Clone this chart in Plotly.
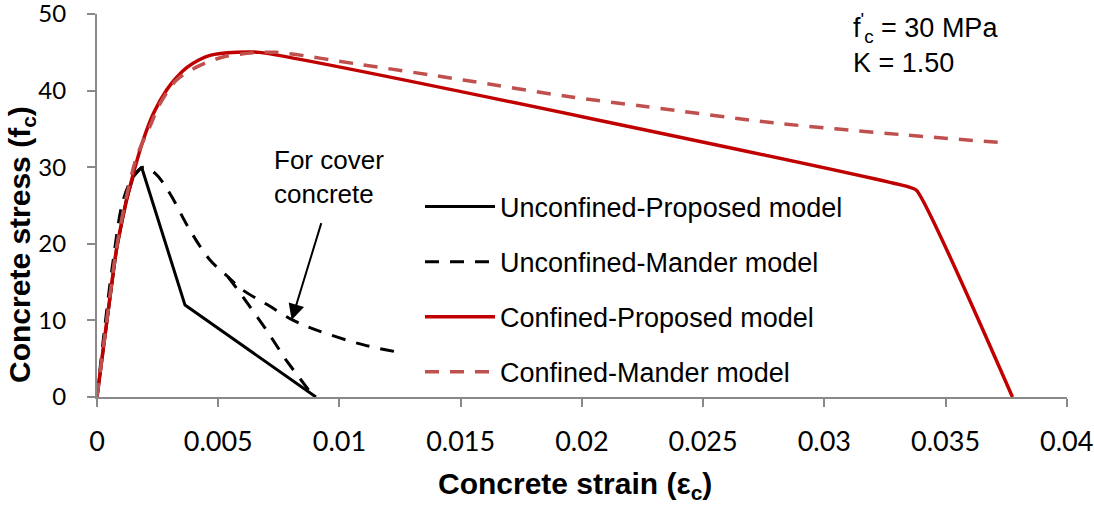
import plotly.graph_objects as go

# ---------------- data ----------------
# Unconfined - Proposed model
unc_prop_strain = [0, 0.0004, 0.0008, 0.0012, 0.0015, 0.00184, 0.00363, 0.00903]
unc_prop_stress = [0, 9.8, 19.2, 25.6, 28.8, 30.0, 12.0, 0.0]

# Unconfined - Mander model (main descending curve)
unc_mand_strain = [0, 0.0003, 0.00067, 0.00108, 0.0015, 0.0019, 0.0024, 0.003, 0.00383,
                   0.00466, 0.0054, 0.006, 0.007, 0.0081, 0.009, 0.011, 0.0127]
unc_mand_stress = [0, 8.6, 17.9, 25.7, 28.8, 30.0, 29.2, 26.6, 21.8,
                   17.9, 15.7, 14.0, 12.1, 10.0, 8.8, 6.8, 5.7]
# Unconfined - Mander model (spalling branch)
unc_mand_branch_strain = [0.0054, 0.0059, 0.007, 0.0078, 0.0089]
unc_mand_branch_stress = [15.7, 13.6, 8.7, 4.8, 0.2]

# Confined - Proposed model
conf_prop_strain = [0, 0.0004, 0.0008, 0.0012, 0.0015, 0.0019, 0.00232, 0.00287, 0.0033,
                    0.0037, 0.0042, 0.00466, 0.00576, 0.0067, 0.0335, 0.0338, 0.03776]
conf_prop_stress = [0, 9.8, 19.2, 25.4, 29.2, 33.5, 37.0, 40.1, 41.8,
                    43.0, 44.0, 44.6, 45.0, 45.0, 27.4, 27.0, 0.0]

# Confined - Mander model
conf_mand_strain = [0, 0.0004, 0.0008, 0.0012, 0.00164, 0.00218, 0.0026, 0.00328, 0.00425,
                    0.0052, 0.0063, 0.0074, 0.0107, 0.0151, 0.0195, 0.0227, 0.0279,
                    0.0334, 0.03736]
conf_mand_stress = [0, 9.9, 19.4, 26.0, 31.4, 35.3, 38.3, 41.4, 43.3,
                    44.4, 44.9, 45.0, 43.5, 41.4, 39.2, 37.9, 35.8,
                    34.2, 33.2]

x_ticks = [0, 0.005, 0.01, 0.015, 0.02, 0.025, 0.03, 0.035, 0.04]
x_tick_labels = ["0", "0.005", "0.01", "0.015", "0.02", "0.025", "0.03", "0.035", "0.04"]
y_ticks = [0, 10, 20, 30, 40, 50]

# ---------------- styles ----------------
RED = "#C00000"
RED_LIGHT = "#C0504D"
BLACK = "#000000"
AXIS = "#898989"
TEXT_FONT = "Liberation Sans, Arial, sans-serif"
TICK_FONT = "Lato, Carlito, sans-serif"

fig = go.Figure()

fig.add_trace(go.Scatter(
    x=unc_prop_strain, y=unc_prop_stress, mode="lines",
    name="Unconfined-Proposed model", legendgroup="g1",
    line=dict(color=BLACK, width=3)))
fig.add_trace(go.Scatter(
    x=unc_mand_strain, y=unc_mand_stress, mode="lines",
    name="Unconfined-Mander model", legendgroup="g2",
    line=dict(color=BLACK, width=3, dash="14px,11px", shape="spline", smoothing=1.0)))
fig.add_trace(go.Scatter(
    x=unc_mand_branch_strain, y=unc_mand_branch_stress, mode="lines",
    name="Unconfined-Mander model", legendgroup="g2", showlegend=False,
    line=dict(color=BLACK, width=3, dash="14px,11px")))
fig.add_trace(go.Scatter(
    x=conf_prop_strain, y=conf_prop_stress, mode="lines",
    name="Confined-Proposed model", legendgroup="g3",
    line=dict(color=RED, width=3.5, shape="spline", smoothing=0.6)))
fig.add_trace(go.Scatter(
    x=conf_mand_strain, y=conf_mand_stress, mode="lines",
    name="Confined-Mander model", legendgroup="g4",
    line=dict(color=RED_LIGHT, width=3.5, dash="14px,11px", shape="spline", smoothing=0.8)))

# parameters note (top right)
fig.add_annotation(
    x=0.0311, y=1.018, xref="x", yref="paper", xanchor="left", yanchor="top",
    text="f<sup>'</sup><sub>c</sub> = 30 MPa<br>K = 1.50", showarrow=False, align="left",
    font=dict(family=TEXT_FONT, size=27, color="#000"))

fig.add_annotation(
    x=0.00722, y=33.2, xref="x", yref="y", xanchor="left", yanchor="top",
    text="For cover<br>concrete", showarrow=False, align="left",
    font=dict(family=TEXT_FONT, size=26, color="#000"))

fig.add_annotation(
    x=0.00803, y=10.05, xref="x", yref="y",
    ax=0.00927, ay=22.9, axref="x", ayref="y",
    text="", showarrow=True, arrowhead=2, arrowsize=1.6, arrowwidth=2, arrowcolor="#000")

# axis titles (placed as in the reference)
fig.add_annotation(
    x=-0.0773, y=0.397, xref="paper", yref="paper", xanchor="center", yanchor="middle",
    text="<b>Concrete stress (f<sub>c</sub>)</b>", textangle=-90, showarrow=False,
    font=dict(family=TEXT_FONT, size=30, color="#000"))
fig.add_annotation(
    x=0.493, y=-0.232, xref="paper", yref="paper", xanchor="center", yanchor="middle",
    text="<b>Concrete strain (ε<sub>c</sub>)</b>", showarrow=False,
    font=dict(family=TEXT_FONT, size=30, color="#000"))

fig.update_layout(
    width=1094, height=508,
    margin=dict(l=97, r=27, t=14, b=111, autoexpand=False),
    paper_bgcolor="white", plot_bgcolor="white",
    font=dict(family=TEXT_FONT, color="#000"),
    legend=dict(
        x=0.333, y=0.56, xanchor="left", yanchor="top",
        font=dict(family=TEXT_FONT, size=27, color="#000"),
        bgcolor="rgba(0,0,0,0)", tracegroupgap=17, itemwidth=70,
    ),
    showlegend=True,
)

fig.update_xaxes(
    range=[0, 0.04001], tickmode="array", tickvals=x_ticks, ticktext=x_tick_labels,
    showgrid=False, zeroline=False, showline=True, linecolor=AXIS, linewidth=2,
    ticks="outside", ticklen=8, tickwidth=1.5, tickcolor=AXIS,
    tickfont=dict(family=TICK_FONT, size=27, color="#000"), ticklabelstandoff=12,
    ticklabeloverflow="allow",
)
fig.update_yaxes(
    range=[0, 50.01], tickmode="array", tickvals=y_ticks,
    showgrid=False, zeroline=False, showline=True, linecolor=AXIS, linewidth=2,
    ticks="outside", ticklen=8, tickwidth=1.5, tickcolor=AXIS,
    tickfont=dict(family=TICK_FONT, size=24, color="#000"), ticklabelstandoff=16,
    ticklabeloverflow="allow",
)

fig.write_html("out.html", config={"displayModeBar": False},
               post_script="document.body.style.margin='0';")
